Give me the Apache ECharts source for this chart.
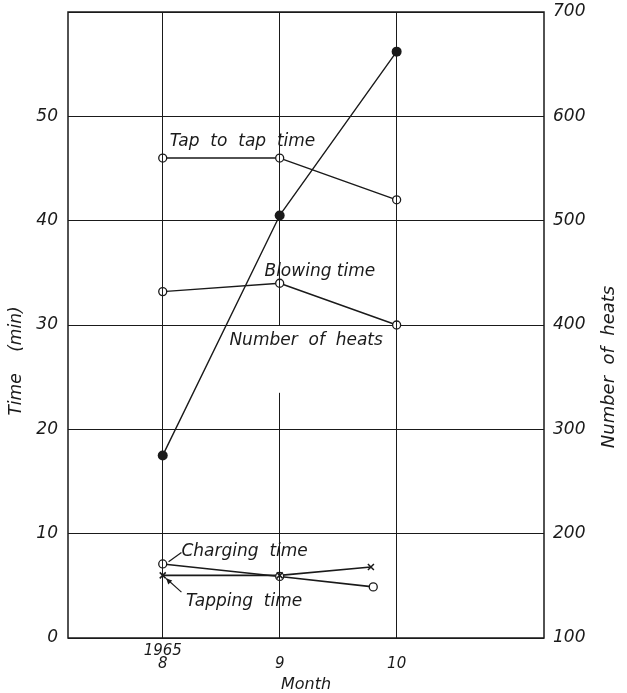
<!DOCTYPE html>
<html lang="en">
<head>
    <meta charset="UTF-8">
    <title>Time and number of heats</title>
    <script src="https://cdn.jsdelivr.net/npm/echarts@6/dist/echarts.min.js"></script>
    <style>
        html, body { margin: 0; padding: 0; background: #fff; }
        #chart1 { width: 627px; height: 693px; }
    </style>
</head>
<body>
<div id="chart1"></div>
<script>
    // months (x values), 1965
    var months = [8, 9, 10];
    var shortMonths = [8, 9, 9.8];     // charging / tapping last points sit a bit left of 10
    var tappingMonths = [8, 9, 9.78];

    var tapToTap = [46, 46, 42];
    var blowing = [33.2, 34, 30];
    var heats = [275, 505, 662];
    var charging = [7.1, 5.9, 4.9];
    var tapping = [6, 6, 6.8];

    var timeTicks = [0, 10, 20, 30, 40, 50];
    var heatTicks = [100, 200, 300, 400, 500, 600, 700];

    function pairs(xs, ys) {
        var out = [];
        for (var i = 0; i < xs.length; i++) out.push([xs[i], ys[i]]);
        return out;
    }

    var ink = '#1a1a1a';
    var fontFam = '"DejaVu Sans", sans-serif';
    var openDot = { color: '#fff', borderColor: ink, borderWidth: 1.3 };

    // vertical rules at the months; the one at 9 is broken round the "Number of heats" note
    var vRules = [
        [{ coord: [8, 0] }, { coord: [8, 60] }],
        [{ coord: [9, 30] }, { coord: [9, 60] }],
        [{ coord: [9, 0] }, { coord: [9, 23.5] }],
        [{ coord: [10, 0] }, { coord: [10, 60] }]
    ];

    var myChart = echarts.init(document.getElementById('chart1'));
    var option = {
        animation: false,
        backgroundColor: '#fff',
        grid: {
            left: 68, right: 83, top: 12, bottom: 55,
            outerBoundsMode: 'none',
            containLabel: false,
            show: true, borderColor: ink, borderWidth: 1.5
        },
        xAxis: {
            type: 'value',
            min: 7.19, max: 11.26,
            axisLine: { show: false },
            axisTick: { show: false },
            splitLine: { show: false },
            axisLabel: {
                customValues: months,
                color: ink, fontStyle: 'italic', fontFamily: fontFam, fontSize: 15,
                lineHeight: 13, margin: 7,
                formatter: function (v) { return v === 8 ? '1965\n8' : '\n' + v; }
            },
            name: 'Month',
            nameLocation: 'middle',
            nameGap: 38,
            nameTextStyle: { color: ink, fontStyle: 'italic', fontFamily: fontFam, fontSize: 16 }
        },
        yAxis: [
            {
                type: 'value', min: 0, max: 60, interval: 10,
                axisLine: { show: false },
                axisTick: { show: false },
                splitLine: { show: true, lineStyle: { color: ink, width: 1 } },
                axisLabel: {
                    color: ink, fontStyle: 'italic', fontFamily: fontFam, fontSize: 17, margin: 10,
                    formatter: function (v) { return timeTicks.indexOf(v) >= 0 ? String(v) : ''; }
                },
                name: 'Time    (min)',
                nameLocation: 'middle',
                nameGap: 36,
                nameRotate: 90,
                nameTextStyle: {
                    color: ink, fontStyle: 'italic', fontFamily: fontFam, fontSize: 17,
                    padding: [0, 72, 0, 0]
                }
            },
            {
                type: 'value', min: 100, max: 700, interval: 100,
                position: 'right',
                axisLine: { show: false },
                axisTick: { show: false },
                splitLine: { show: false },
                axisLabel: {
                    color: ink, fontStyle: 'italic', fontFamily: fontFam, fontSize: 17, margin: 9,
                    formatter: function (v) { return heatTicks.indexOf(v) >= 0 ? String(v) : ''; }
                },
                name: 'Number  of  heats',
                nameLocation: 'middle',
                nameGap: 56,
                nameRotate: 90,
                nameTextStyle: {
                    color: ink, fontStyle: 'italic', fontFamily: fontFam, fontSize: 18,
                    padding: [0, 84, 0, 0]
                }
            }
        ],
        series: [
            {
                type: 'line', data: [], silent: true,
                markLine: {
                    symbol: 'none', silent: true, label: { show: false },
                    lineStyle: { color: ink, width: 1, type: 'solid' },
                    data: vRules
                }
            },
            {
                name: 'Tap to tap time', type: 'line', yAxisIndex: 0,
                data: pairs(months, tapToTap),
                symbol: 'circle', symbolSize: 8, itemStyle: openDot,
                lineStyle: { color: ink, width: 1.4 }
            },
            {
                name: 'Blowing time', type: 'line', yAxisIndex: 0,
                data: pairs(months, blowing),
                symbol: 'circle', symbolSize: 8, itemStyle: openDot,
                lineStyle: { color: ink, width: 1.4 }
            },
            {
                name: 'Number of heats', type: 'line', yAxisIndex: 1,
                data: pairs(months, heats),
                symbol: 'circle', symbolSize: 10, itemStyle: { color: ink },
                lineStyle: { color: ink, width: 1.4 }
            },
            {
                name: 'Charging time', type: 'line', yAxisIndex: 0,
                data: pairs(shortMonths, charging),
                symbol: 'circle', symbolSize: 8, itemStyle: openDot,
                lineStyle: { color: ink, width: 1.6 }
            },
            {
                name: 'Tapping time', type: 'line', yAxisIndex: 0,
                data: pairs(tappingMonths, tapping),
                symbol: 'path://M0,0L10,10M10,0L0,10', symbolSize: 6,
                itemStyle: { color: 'none', borderColor: ink, borderWidth: 1.5 },
                lineStyle: { color: ink, width: 1.6 }
            }
        ]
    };
    myChart.setOption(option);

    // text notes placed through the axes
    var notes = [
        { text: 'Tap  to  tap  time', at: [8.06, 47.6] },
        { text: 'Blowing time', at: [8.87, 35.1] },
        { text: 'Number  of  heats', at: [8.57, 28.5] },
        { text: 'Charging  time', at: [8.16, 8.3] },
        { text: 'Tapping  time', at: [8.2, 3.45] }
    ];
    var toPx = function (v) {
        return myChart.convertToPixel({ xAxisIndex: 0, yAxisIndex: 0 }, v);
    };
    var graphics = notes.map(function (n) {
        var p = toPx(n.at);
        return {
            type: 'text', x: p[0], y: p[1],
            style: {
                text: n.text, fill: ink, fontStyle: 'italic', fontFamily: fontFam,
                fontSize: 17, verticalAlign: 'middle', align: 'left'
            }
        };
    });
    // leader strokes to the 1965-8 points
    var leaders = [
        [[8.05, 7.3], [8.16, 8.2]],
        [[8.03, 5.7], [8.16, 4.4]]
    ];
    leaders.forEach(function (seg) {
        var a = toPx(seg[0]);
        var b = toPx(seg[1]);
        graphics.push({
            type: 'line', shape: { x1: a[0], y1: a[1], x2: b[0], y2: b[1] },
            style: { stroke: ink, lineWidth: 1.2 }
        });
    });
    // small arrow head on the tapping leader
    var tip = toPx([8.03, 5.7]);
    graphics.push({
        type: 'polygon',
        shape: { points: [[tip[0], tip[1]], [tip[0] + 6, tip[1] + 2], [tip[0] + 2, tip[1] + 6]] },
        style: { fill: ink }
    });
    myChart.setOption({ graphic: graphics });
</script>
</body>
</html>
